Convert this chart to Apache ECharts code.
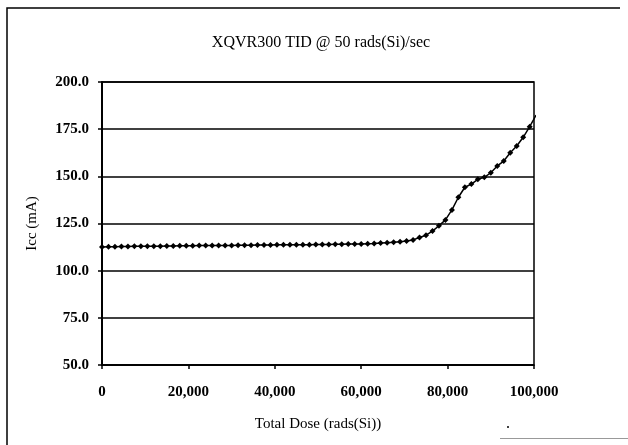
<!DOCTYPE html>
<html>
<head>
<meta charset="utf-8">
<script src="https://cdn.jsdelivr.net/npm/echarts@6/dist/echarts.min.js"></script>
<style>
html,body{margin:0;padding:0;background:#fff;}
#chart{width:628px;height:445px;}
</style>
</head>
<body>
<div id="chart"></div>
<script>
// Data
var doses = [0, 1500, 3000, 4500, 6000, 7500, 9000, 10500, 12000, 13500,
  15000, 16500, 18000, 19500, 21000, 22500, 24000, 25500, 27000, 28500,
  30000, 31500, 33000, 34500, 36000, 37500, 39000, 40500, 42000, 43500,
  45000, 46500, 48000, 49500, 51000, 52500, 54000, 55500, 57000, 58500,
  60000, 61500, 63000, 64500, 66000, 67500, 69000, 70500, 72000, 73500,
  75000, 76500, 78000, 79500, 81000, 82500, 84000, 85500, 87000, 88500,
  90000, 91500, 93000, 94500, 96000, 97500, 99000, 100500];
var icc = [112.6, 112.7, 112.7, 112.8, 112.8, 112.9, 112.9, 113.0, 113.0, 113.0,
  113.1, 113.1, 113.2, 113.2, 113.2, 113.3, 113.3, 113.3, 113.4, 113.4,
  113.4, 113.5, 113.5, 113.5, 113.6, 113.6, 113.6, 113.7, 113.7, 113.7,
  113.8, 113.8, 113.8, 113.9, 113.9, 113.9, 114.0, 114.0, 114.1, 114.1,
  114.2, 114.3, 114.4, 114.6, 114.8, 115.0, 115.3, 115.7, 116.3, 117.6,
  118.8, 121.0, 123.8, 126.9, 132.2, 138.9, 144.2, 145.9, 148.4, 149.5,
  151.9, 155.5, 158.1, 162.5, 166.1, 170.7, 176.3, 182.5];
var titleText = 'XQVR300 TID @ 50 rads(Si)/sec';
var xName = 'Total Dose (rads(Si))';
var yName = 'Icc (mA)';

var points = doses.map(function (d, i) { return [d, icc[i]]; });

var chart = echarts.init(document.getElementById('chart'), null, {renderer: 'canvas'});
var serif = '"Liberation Serif", "Times New Roman", serif';
chart.setOption({
  animation: false,
  backgroundColor: '#fff',
  textStyle: {fontFamily: serif, color: '#000'},
  title: {
    text: titleText,
    left: 316, top: 30,
    textAlign: 'center',
    textStyle: {fontFamily: serif, fontSize: 16, fontWeight: 'normal', color: '#000'}
  },
  graphic: [
    {type: 'polyline', shape: {points: [[7, 445], [7, 8], [620, 8]]},
     style: {stroke: '#000', lineWidth: 1.5, fill: null}},
    {type: 'line', shape: {x1: 500, y1: 438.5, x2: 628, y2: 438.5},
     style: {stroke: '#999', lineWidth: 1}},
    {type: 'circle', shape: {cx: 508, cy: 427, r: 1}, style: {fill: '#000'}}
  ],
  grid: {
    left: 102, right: 94, top: 82, bottom: 80,
    show: true, borderColor: '#000', borderWidth: 1.5, backgroundColor: 'transparent'
  },
  xAxis: {
    type: 'value', min: 0, max: 100000, interval: 20000,
    name: xName, nameLocation: 'middle', nameGap: 52,
    nameTextStyle: {fontFamily: serif, fontSize: 15, color: '#000'},
    axisLine: {show: true, onZero: false, lineStyle: {color: '#000', width: 1.5}},
    axisTick: {show: true, inside: false, length: 4, lineStyle: {color: '#000', width: 1.5}},
    axisLabel: {fontFamily: serif, fontSize: 15, fontWeight: 'bold', color: '#000', margin: 20,
      formatter: function (v) { return v.toLocaleString('en-US'); }},
    splitLine: {show: false}
  },
  yAxis: {
    type: 'value', min: 50, max: 200, interval: 25,
    name: yName, nameLocation: 'middle', nameGap: 62, nameRotate: 90,
    nameTextStyle: {fontFamily: serif, fontSize: 15, color: '#000'},
    axisLine: {show: true, lineStyle: {color: '#000', width: 2}},
    axisTick: {show: true, inside: false, length: 4, lineStyle: {color: '#000', width: 1.5}},
    axisLabel: {fontFamily: serif, fontSize: 15, fontWeight: 'bold', color: '#000', margin: 13,
      formatter: function (v) { return v.toFixed(1); }},
    splitLine: {show: true, lineStyle: {color: '#000', width: 1.5}}
  },
  series: [{
    type: 'line',
    data: points,
    clip: true,
    symbol: 'diamond',
    symbolSize: [6, 6],
    showAllSymbol: true,
    itemStyle: {color: '#000'},
    lineStyle: {color: '#000', width: 1.5}
  }]
});
</script>
</body>
</html>
